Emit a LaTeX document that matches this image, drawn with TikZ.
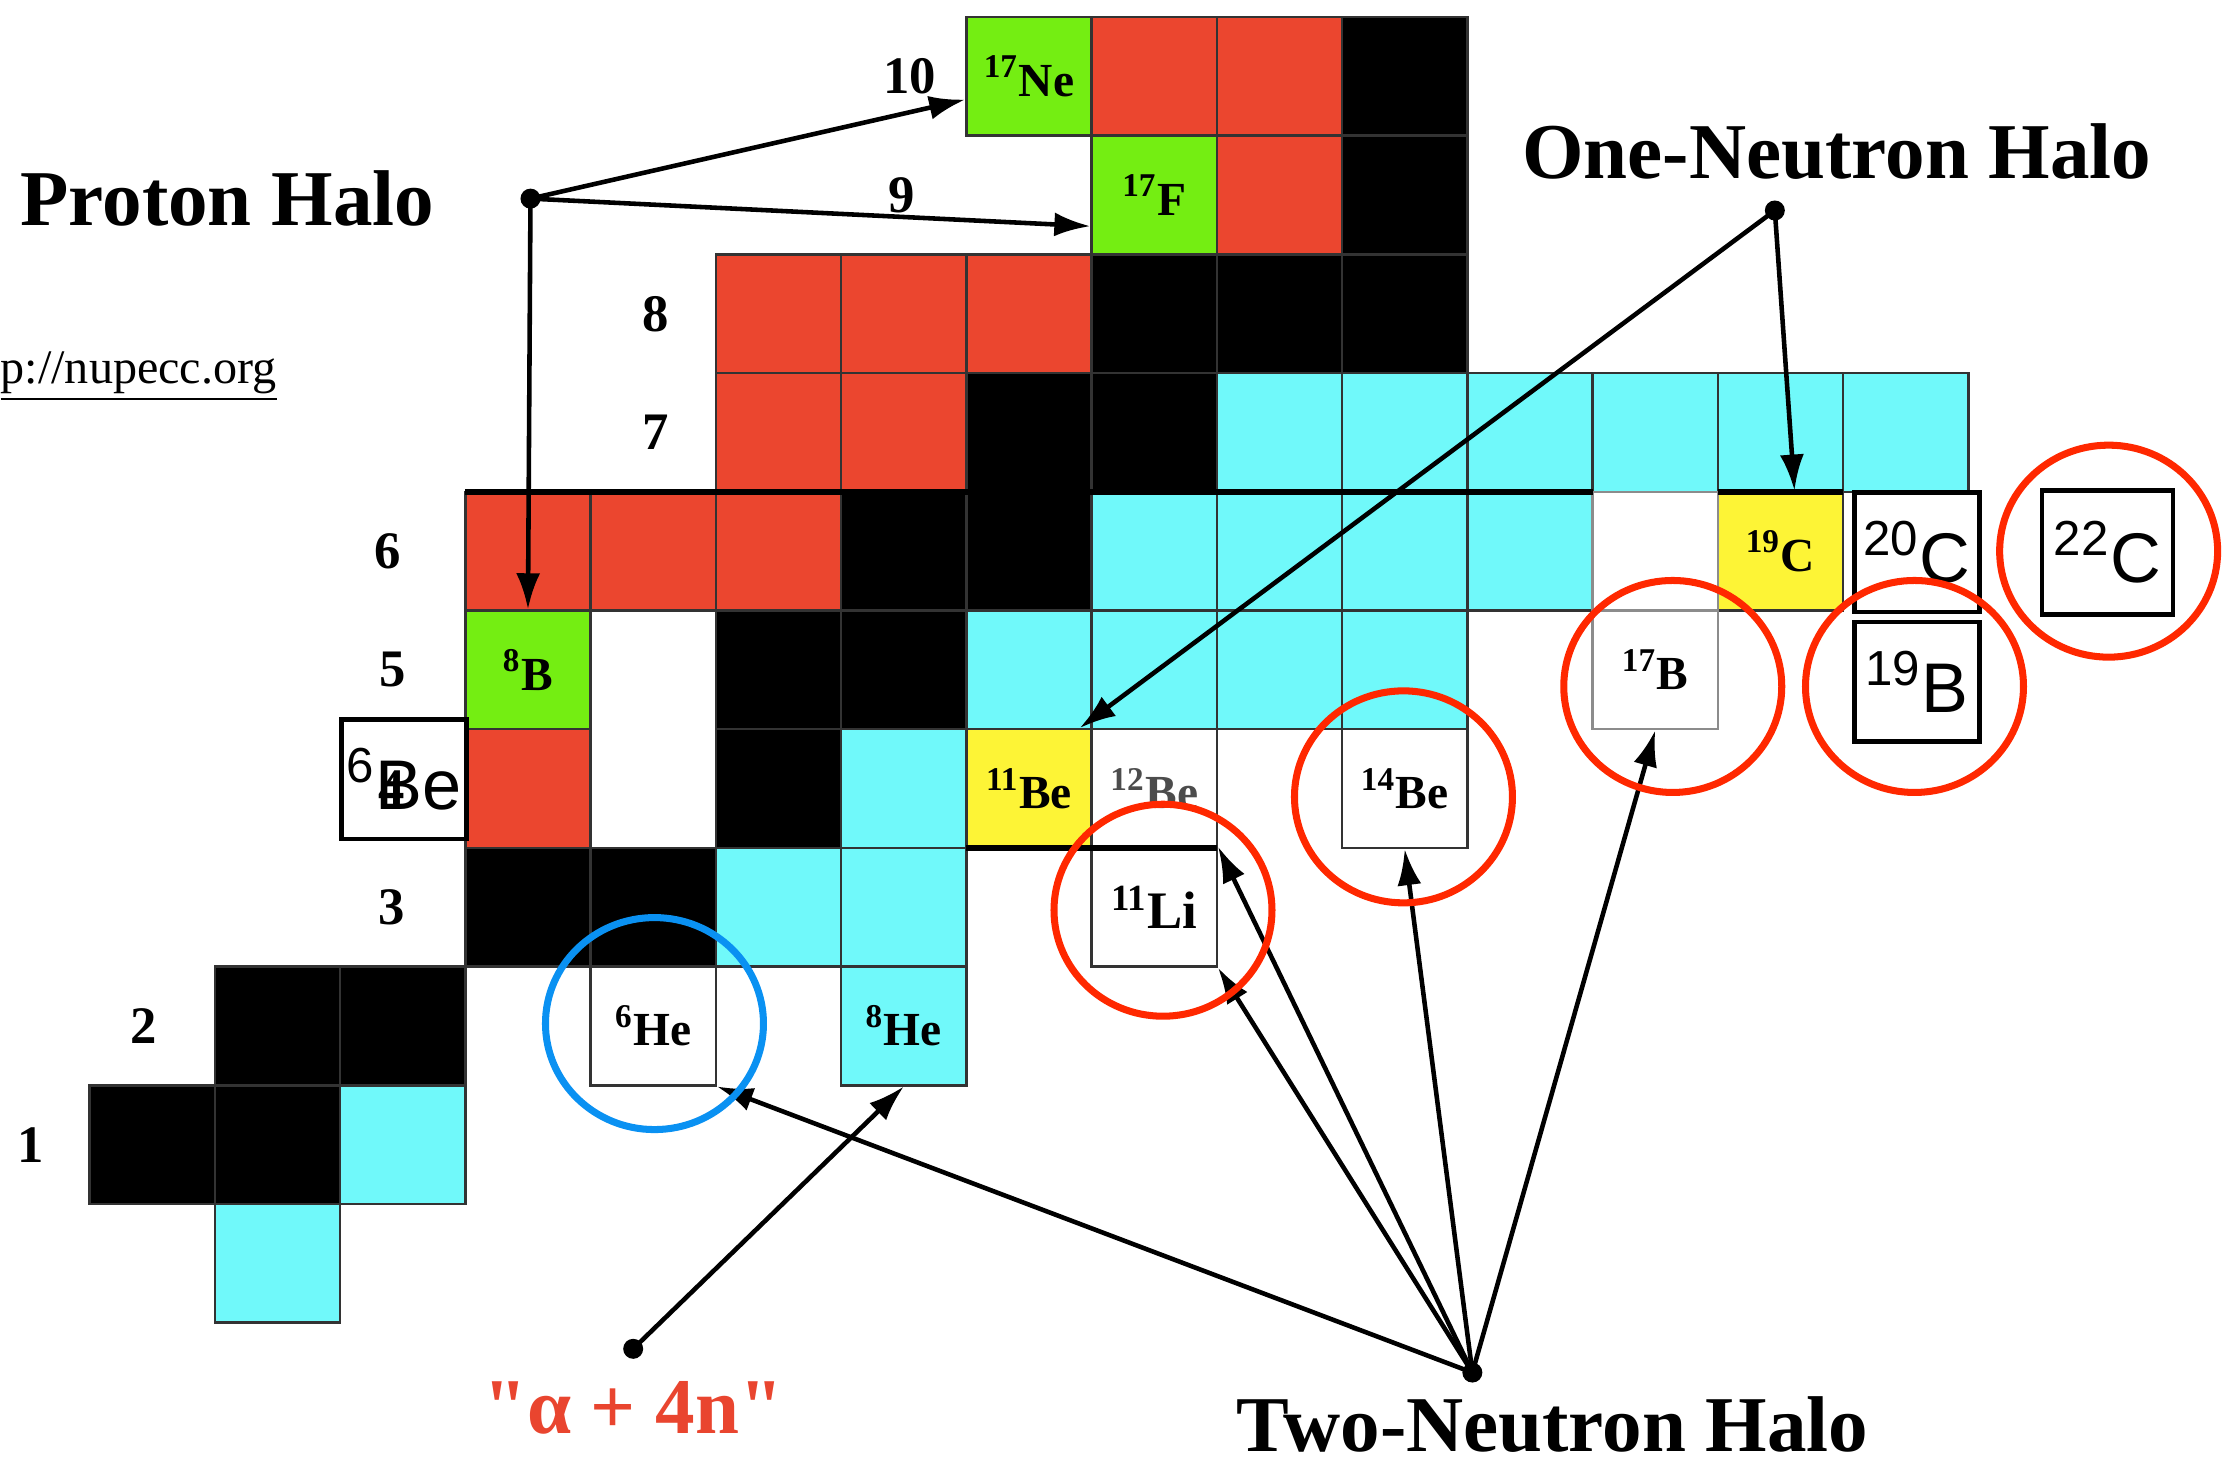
\documentclass[tikz,border=0pt]{standalone}
\usepackage{fontspec}
\setmainfont{Liberation Serif}
\newfontfamily\boxfont{Liberation Sans}
\newfontfamily\quotefont{Liberation Serif}
\usepackage{xcolor}
\usetikzlibrary{arrows.meta}
\definecolor{protonred}{HTML}{EB462F}
\definecolor{nrichcyan}{HTML}{70F9FA}
\definecolor{halogreen}{HTML}{74EE12}
\definecolor{haloyellow}{HTML}{FDF436}
\definecolor{ringred}{HTML}{FF2800}
\definecolor{ringblue}{HTML}{0A91F2}
\definecolor{alphared}{HTML}{E9452F}
\tikzset{
	cell/.style={draw=black!80, line width=0.7pt, minimum width=1.2525cm, minimum height=1.187cm,
			inner sep=0pt, font=\bfseries\fontsize{13.5}{13.5}\selectfont},
	annot/.style={draw=black, line width=1.3pt, minimum width=1.25cm, minimum height=1.195cm,
			inner sep=0pt, font=\boxfont\fontsize{20}{20}\selectfont},
	rowlabel/.style={font=\bfseries\fontsize{15}{15}\selectfont, inner sep=0pt},
	halolabel/.style={font=\bfseries\fontsize{22.5}{22.5}\selectfont, inner sep=0pt},
	halodot/.style={circle, fill=black, minimum size=0.2cm, inner sep=0pt},
	halo arrow/.style={line width=1.3pt, -{Latex[length=3.6mm, width=2.4mm]}},
	shellline/.style={line width=1.8pt},
	ring/.style={line width=2pt}
}

\begin{document}
\begin{tikzpicture}
	\useasboundingbox (0,0) rectangle (22.30,14.65);
	\begin{scope}[shift={(0.896,1.423)}, x=1.2525cm, y=1.187cm]
		% Stable nuclei
		\foreach \n/\z in {0/1,1/1,1/2,2/2,3/3,4/3,5/4,5/5,6/5,6/6,7/6,7/7,8/7,8/8,9/8,10/8,10/9,10/10}
		\node[cell, fill=black] (b\n-\z) at (\n+0.5,\z+0.5) {};
		% Proton-rich nuclei
		\foreach \n/\z in {8/10,9/10,9/9,5/8,6/8,7/8,5/7,6/7,3/6,4/6,5/6,3/4}
		\node[cell, fill=protonred] (p\n-\z) at (\n+0.5,\z+0.5) {};
		% Neutron-rich nuclei
		\foreach \n/\z in {1/0,2/1,5/3,6/3,6/4,7/5,8/5,9/5,10/5,8/6,9/6,10/6,11/6,9/7,10/7,11/7,12/7,13/7,14/7}
		\node[cell, fill=nrichcyan] (r\n-\z) at (\n+0.5,\z+0.5) {};
		% Halo nuclei
		\node[cell, fill=halogreen] (n17Ne) at (7.5,10.5) {\textsuperscript{17}Ne};
		\node[cell, fill=halogreen] (n17F) at (8.5,9.5) {\textsuperscript{17}F};
		\node[cell, fill=halogreen] (n8B) at (3.5,5.5) {\textsuperscript{8}B};
		\node[cell, fill=haloyellow] (n11Be) at (7.5,4.5) {\textsuperscript{11}Be};
		\node[cell, fill=haloyellow] (n19C) at (13.5,6.5) {\textsuperscript{19}C};
		\node[cell, fill=nrichcyan] (n8He) at (6.5,2.5) {\textsuperscript{8}He};
		\node[cell, fill=white] (n6He) at (4.5,2.5) {\textsuperscript{6}He};
		\node[cell, fill=white, font=\bfseries\fontsize{15}{15}\selectfont] (n11Li) at (8.5,3.5) {\textsuperscript{11}Li};
		\node[cell, fill=white, text=black!70] (n12Be) at (8.5,4.5) {\textsuperscript{12}Be};
		\node[cell, fill=white] (n14Be) at (10.5,4.5) {\textsuperscript{14}Be};
		\node[cell, fill=white, draw=black!45] (n17B) at (12.5,5.5) {\textsuperscript{17}B};
		\node[cell, fill=white, draw=black!45] (n18C) at (12.5,6.5) {};
		% Thick borders
		\draw[shellline] (3,7) -- (12,7) (13,7) -- (14,7) (7,4) -- (9,4);

		% Proton numbers
		\node[rowlabel] (z1) at (-0.47,1.5) {1};
		\node[rowlabel] (z2) at (0.43,2.5) {2};
		\node[rowlabel] (z3) at (2.41,3.5) {3};
		\node[rowlabel] (z4) at (2.41,4.5) {4};
		\node[rowlabel] (z5) at (2.42,5.5) {5};
		\node[rowlabel] (z6) at (2.38,6.5) {6};
		\node[rowlabel] (z7) at (4.52,7.5) {7};
		\node[rowlabel] (z8) at (4.52,8.5) {8};
		\node[rowlabel] (z9) at (6.48,9.5) {9};
		\node[rowlabel] (z10) at (6.55,10.5) {10};

		% Added nuclei
		\node[annot] (a6Be) at (2.51,4.58) {\textsuperscript{6}Be};
		\node[annot] (a20C) at (14.59,6.49) {\textsuperscript{20}C};
		\node[annot] (a19B) at (14.59,5.40) {\textsuperscript{19}B};
		\node[annot, minimum width=1.31cm, minimum height=1.24cm] (a22C) at (16.11,6.49) {\textsuperscript{22}C};

		% Labels and source
		\node[halolabel] (plab) at (1.10,9.47) {Proton Halo};
		\node[halolabel] (olab) at (13.95,9.87) {One-Neutron Halo};
		\node[halolabel] (tlab) at (11.68,-0.86) {Two-Neutron Halo};
		\node[halolabel, text=alphared] (alab) at (4.34,-0.72) {\quotefont "α + 4n"};
		\node[anchor=west, inner sep=0pt, font=\fontsize{13.7}{13.7}\selectfont] (url) at (-0.715,7.97) {\underline{p://nupecc.org}};

		% Arrows
		\node[halodot] (pdot) at (3.52,9.47) {};
		\node[halodot] (odot) at (13.455,9.37) {};
		\node[halodot] (tdot) at (11.04,-0.42) {};
		\node[halodot] (adot) at (4.34,-0.22) {};
		\draw[halo arrow] (pdot.center) -- (n17Ne.200);
		\draw[halo arrow] (pdot.center) -- (n17F.206);
		\draw[halo arrow] (pdot.center) -- (n8B.north);
		\draw[halo arrow] (odot.center) -- (n11Be.50);
		\draw[halo arrow] (odot.center) -- (n19C.77);
		\draw[halo arrow] (tdot.center) -- (n6He.south east);
		\draw[halo arrow] (tdot.center) -- (n11Li.south east);
		\draw[halo arrow] (tdot.center) -- (n11Li.north east);
		\draw[halo arrow] (tdot.center) -- (n14Be.south);
		\draw[halo arrow] (tdot.center) -- (n17B.south);
		\draw[halo arrow] (adot.center) -- (n8He.south);

		% Circles
		\draw[ring, ringblue] (4.51,2.52) ellipse [x radius=1.09cm, y radius=1.06cm];
		\foreach \cx/\cy in {8.57/3.475, 10.49/4.43, 12.64/5.36, 14.57/5.36, 16.12/6.50}
		\draw[ring, ringred] (\cx,\cy) ellipse [x radius=1.09cm, y radius=1.06cm];
	\end{scope}
\end{tikzpicture}
\end{document}
